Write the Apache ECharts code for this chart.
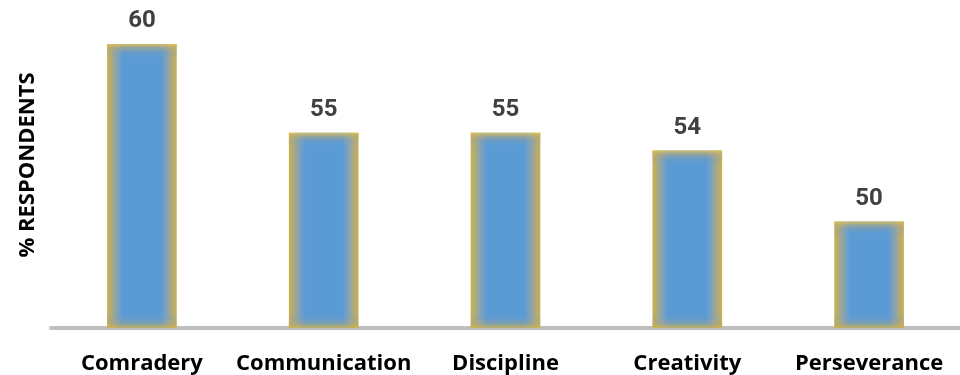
<!DOCTYPE html>
<html>
<head>
<meta charset="utf-8">
<script src="https://cdn.jsdelivr.net/npm/echarts@6/dist/echarts.min.js"></script>
<style>
  html, body { margin: 0; padding: 0; background: #ffffff; }
  #chart { width: 960px; height: 375px; }
</style>
</head>
<body>
<div id="chart"></div>
<script>
// Skills and share of respondents naming each one
const categories = ['Comradery', 'Communication', 'Discipline', 'Creativity', 'Perseverance'];
const values = [60, 55, 55, 54, 50];
const axisName = '% RESPONDENTS';

const Y_MIN = 44;
const Y_MAX = 60;

const BLUE = '#5B9BD5';

const chart = echarts.init(document.getElementById('chart'), null, { renderer: 'canvas' });

// Each bar: blue body with a soft golden glow along its edges, value label above
function renderBar(params, api) {
  const idx = api.value(0);
  const val = api.value(1);
  const top = api.coord([idx, val]);
  const base = api.coord([idx, Y_MIN]);
  const w = api.size([1, 0])[0] * 0.383;
  const x = top[0] - w / 2;
  const y = top[1];
  const h = base[1] - top[1];
  const edge = 15;

  const sideGrad = new echarts.graphic.LinearGradient(0, 0, 1, 0, [
    { offset: 0, color: '#CDB04C' },
    { offset: 0.05, color: '#B6AB72' },
    { offset: 0.11, color: '#97A69E' },
    { offset: 0.17, color: '#76A0C3' },
    { offset: 0.23, color: BLUE },
    { offset: 0.77, color: BLUE },
    { offset: 0.83, color: '#76A0C3' },
    { offset: 0.89, color: '#97A69E' },
    { offset: 0.95, color: '#B6AB72' },
    { offset: 1, color: '#CDB04C' }
  ]);
  const topGrad = new echarts.graphic.LinearGradient(0, 0, 0, 1, [
    { offset: 0, color: 'rgba(226,196,84,0.9)' },
    { offset: 0.25, color: 'rgba(190,172,112,0.55)' },
    { offset: 0.6, color: 'rgba(140,160,160,0.22)' },
    { offset: 1, color: 'rgba(91,155,213,0)' }
  ]);
  const bottomGrad = new echarts.graphic.LinearGradient(0, 1, 0, 0, [
    { offset: 0, color: 'rgba(210,180,72,0.85)' },
    { offset: 0.25, color: 'rgba(184,170,112,0.5)' },
    { offset: 0.6, color: 'rgba(140,160,160,0.2)' },
    { offset: 1, color: 'rgba(91,155,213,0)' }
  ]);

  return {
    type: 'group',
    children: [
      { type: 'rect', shape: { x: x, y: y, width: w, height: h }, style: { fill: sideGrad } },
      { type: 'rect', shape: { x: x, y: y, width: w, height: edge }, style: { fill: topGrad } },
      { type: 'rect', shape: { x: x, y: base[1] - edge, width: w, height: edge }, style: { fill: bottomGrad } },
      {
        type: 'text',
        x: top[0],
        y: y - 23,
        style: {
          text: String(val),
          fill: '#404040',
          font: 'bold 24px Roboto, "Open Sans", sans-serif',
          textAlign: 'center',
          textVerticalAlign: 'middle'
        }
      }
    ]
  };
}

const option = {
  animation: false,
  grid: { left: 51, right: -2, top: 44, bottom: 46.5, containLabel: false },
  xAxis: {
    type: 'category',
    data: categories,
    axisLine: { show: true, lineStyle: { color: '#BFBFBF', width: 4 } },
    axisTick: { show: false },
    axisLabel: {
      interval: 0,
      margin: 25,
      color: '#000000',
      fontSize: 22,
      fontWeight: 'bold',
      fontFamily: '"Open Sans", "Noto Sans", sans-serif'
    },
    splitLine: { show: false }
  },
  yAxis: {
    type: 'value',
    min: Y_MIN,
    max: Y_MAX,
    axisLine: { show: false },
    axisTick: { show: false },
    axisLabel: { show: false },
    splitLine: { show: false }
  },
  graphic: [{
    type: 'text',
    x: 27.5,
    y: 165,
    rotation: Math.PI / 2,
    style: {
      text: axisName,
      fill: '#000000',
      font: 'bold 22px "Open Sans", "Noto Sans", sans-serif',
      textAlign: 'center',
      textVerticalAlign: 'middle'
    }
  }],
  series: [{
    type: 'custom',
    renderItem: renderBar,
    encode: { x: 0, y: 1 },
    clip: false,
    data: values.map((v, i) => [i, v])
  }]
};

chart.setOption(option);
</script>
</body>
</html>
